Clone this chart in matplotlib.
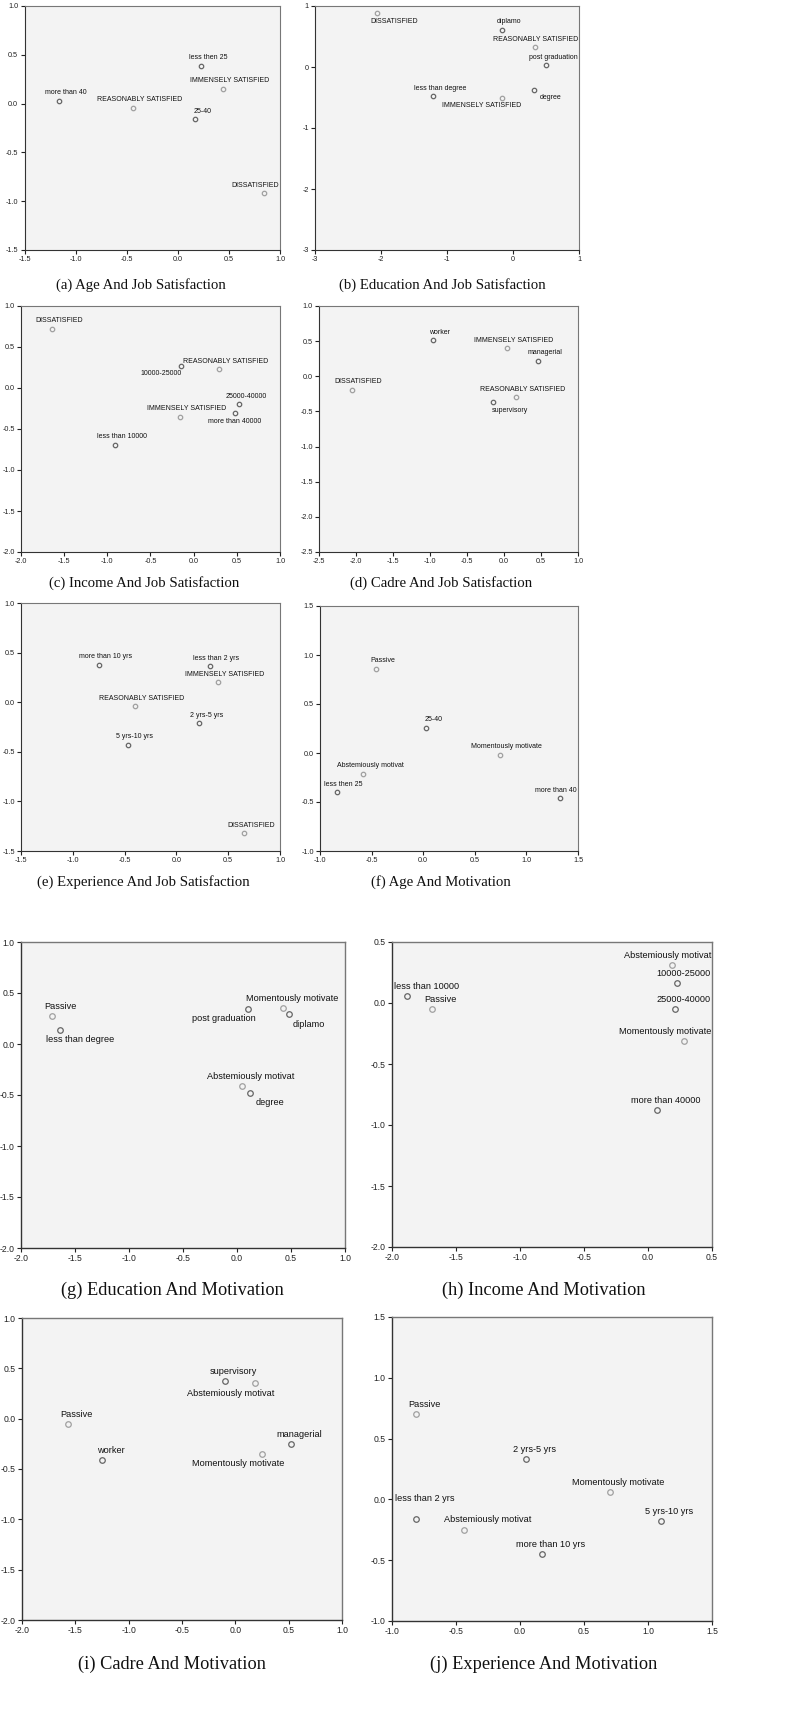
"""Correspondence plots: demographics vs job satisfaction and motivation."""

import matplotlib

matplotlib.use("Agg")
import matplotlib.pyplot as plt
import numpy as np

W, H, DPI = 802, 1728, 100
PANEL_BG = "#f3f3f3"
DARK_PT = "#666666"
LIGHT_PT = "#a0a0a0"

# category names that belong to the response variable (lighter markers)
RESPONSE = {
    "IMMENSELY SATISFIED", "REASONABLY SATISFIED", "DISSATISFIED",
    "Passive", "Abstemiously motivat", "Momentously motivate",
}

# (a) Age And Job Satisfaction
A_LABELS = ["less then 25", "IMMENSELY SATISFIED", "more than 40",
            "REASONABLY SATISFIED", "25-40", "DISSATISFIED"]
A_X = [0.23, 0.44, -1.16, -0.44, 0.17, 0.84]
A_Y = [0.39, 0.15, 0.03, -0.04, -0.16, -0.92]
A_POS = ["a", "a", "a", "a", "a", "a"]

# (b) Education And Job Satisfaction
B_LABELS = ["DISSATISFIED", "diplamo", "REASONABLY SATISFIED", "post graduation",
            "degree", "less than degree", "IMMENSELY SATISFIED"]
B_X = [-2.06, -0.17, 0.33, 0.50, 0.32, -1.21, -0.17]
B_Y = [0.88, 0.61, 0.32, 0.03, -0.37, -0.48, -0.50]
B_POS = ["br", "a", "a", "a", "br", "a", "bl"]

# (c) Income And Job Satisfaction
C_LABELS = ["DISSATISFIED", "10000-25000", "REASONABLY SATISFIED", "25000-40000",
            "more than 40000", "IMMENSELY SATISFIED", "less than 10000"]
C_X = [-1.64, -0.15, 0.29, 0.53, 0.48, -0.16, -0.91]
C_Y = [0.72, 0.27, 0.23, -0.20, -0.31, -0.35, -0.69]
C_POS = ["a", "bl", "a", "a", "b", "a", "a"]

# (d) Cadre And Job Satisfaction
D_LABELS = ["DISSATISFIED", "worker", "IMMENSELY SATISFIED", "managerial",
            "REASONABLY SATISFIED", "supervisory"]
D_X = [-2.06, -0.96, 0.04, 0.46, 0.16, -0.15]
D_Y = [-0.19, 0.51, 0.40, 0.22, -0.30, -0.37]
D_POS = ["a", "a", "a", "a", "a", "br"]

# (e) Experience And Job Satisfaction
E_LABELS = ["more than 10 yrs", "less than 2 yrs", "IMMENSELY SATISFIED",
            "REASONABLY SATISFIED", "2 yrs-5 yrs", "5 yrs-10 yrs", "DISSATISFIED"]
E_X = [-0.75, 0.32, 0.40, -0.40, 0.22, -0.47, 0.65]
E_Y = [0.38, 0.36, 0.20, -0.04, -0.21, -0.43, -1.32]
E_POS = ["a", "a", "a", "a", "a", "a", "a"]

# (f) Age And Motivation
F_LABELS = ["Passive", "Abstemiously motivat", "less then 25", "25-40",
            "Momentously motivate", "more than 40"]
F_X = [-0.46, -0.58, -0.84, 0.03, 0.74, 1.33]
F_Y = [0.86, -0.21, -0.40, 0.26, -0.02, -0.46]
F_POS = ["a", "a", "a", "a", "a", "a"]

# (g) Education And Motivation
G_LABELS = ["Passive", "less than degree", "post graduation", "Momentously motivate",
            "diplamo", "Abstemiously motivat", "degree"]
G_X = [-1.71, -1.64, 0.10, 0.43, 0.48, 0.05, 0.12]
G_Y = [0.27, 0.14, 0.34, 0.35, 0.29, -0.41, -0.48]
G_POS = ["a", "br", "bl", "a", "br", "a", "br"]

# (h) Income And Motivation
H_LABELS = ["Abstemiously motivat", "10000-25000", "25000-40000", "Momentously motivate",
            "more than 40000", "less than 10000", "Passive"]
H_X = [0.19, 0.23, 0.21, 0.28, 0.07, -1.88, -1.69]
H_Y = [0.31, 0.16, -0.05, -0.31, -0.88, 0.06, -0.05]
H_POS = ["a", "a", "a", "a", "a", "a", "a"]

# (i) Cadre And Motivation
I_LABELS = ["supervisory", "Abstemiously motivat", "Passive", "worker",
            "Momentously motivate", "managerial"]
I_X = [-0.10, 0.18, -1.57, -1.25, 0.25, 0.52]
I_Y = [0.37, 0.35, -0.05, -0.41, -0.35, -0.25]
I_POS = ["a", "bl", "a", "a", "bl", "a"]

# (j) Experience And Motivation
J_LABELS = ["Passive", "2 yrs-5 yrs", "Momentously motivate", "less than 2 yrs",
            "Abstemiously motivat", "5 yrs-10 yrs", "more than 10 yrs"]
J_X = [-0.81, 0.05, 0.70, -0.81, -0.44, 1.10, 0.17]
J_Y = [0.70, 0.33, 0.06, -0.16, -0.25, -0.18, -0.45]
J_POS = ["a", "a", "a", "aa", "ar", "a", "a"]

# label offsets (pixels) relative to the point, text centred
OFFSETS = {
    "a": (7, 8),
    "aa": (7, 17),
    "ar": (20, 9),
    "b": (0, -8),
    "br": (17, -8),
    "bl": (-20, -8),
}

plt.rcParams["axes.unicode_minus"] = False
plt.rcParams["font.family"] = "Liberation Sans"

fig = plt.figure(figsize=(W / DPI, H / DPI), dpi=DPI)


def px_axes(left, top, right, bottom):
    return fig.add_axes([left / W, 1 - bottom / H, (right - left) / W, (bottom - top) / H])


panels = [
    # title, box(l,t,r,b), xlim, ylim, step, title_xy, big
    ("(a) Age And Job Satisfaction", (24.5, 6, 280, 250), (-1.5, 1.0), (-1.5, 1.0), 0.5,
     (141, 285), False, A_LABELS, A_X, A_Y, A_POS),
    ("(b) Education And Job Satisfaction", (315, 6, 579, 250), (-3, 1), (-3, 1), 1,
     (442, 285), False, B_LABELS, B_X, B_Y, B_POS),
    ("(c) Income And Job Satisfaction", (21, 306, 280, 552), (-2.0, 1.0), (-2.0, 1.0), 0.5,
     (144, 583), False, C_LABELS, C_X, C_Y, C_POS),
    ("(d) Cadre And Job Satisfaction", (319, 306, 578, 552), (-2.5, 1.0), (-2.5, 1.0), 0.5,
     (441, 583), False, D_LABELS, D_X, D_Y, D_POS),
    ("(e) Experience And Job Satisfaction", (21, 603, 280, 851), (-1.5, 1.0), (-1.5, 1.0), 0.5,
     (143, 882), False, E_LABELS, E_X, E_Y, E_POS),
    ("(f) Age And Motivation", (320, 606, 578, 851), (-1.0, 1.5), (-1.0, 1.5), 0.5,
     (441, 882), False, F_LABELS, F_X, F_Y, F_POS),
    ("(g) Education And Motivation", (21, 942, 345, 1248), (-2.0, 1.0), (-2.0, 1.0), 0.5,
     (172, 1290), True, G_LABELS, G_X, G_Y, G_POS),
    ("(h) Income And Motivation", (392, 942, 712, 1247), (-2.0, 0.5), (-2.0, 0.5), 0.5,
     (544, 1290), True, H_LABELS, H_X, H_Y, H_POS),
    ("(i) Cadre And Motivation", (22, 1318, 342, 1620), (-2.0, 1.0), (-2.0, 1.0), 0.5,
     (172, 1664), True, I_LABELS, I_X, I_Y, I_POS),
    ("(j) Experience And Motivation", (392, 1317, 712, 1621), (-1.0, 1.5), (-1.0, 1.5), 0.5,
     (544, 1664), True, J_LABELS, J_X, J_Y, J_POS),
]

all_notes = []
for title, box, xlim, ylim, step, title_xy, big, labels, xs, ys, pos in panels:
    ax = px_axes(*box)
    ax.set_facecolor(PANEL_BG)
    ax.set_xlim(*xlim)
    ax.set_ylim(*ylim)
    fmt = "%d" if step == 1 else "%.1f"
    xt = np.arange(xlim[0], xlim[1] + step / 2, step)
    yt = np.arange(ylim[0], ylim[1] + step / 2, step)
    ax.set_xticks(xt)
    ax.set_yticks(yt)
    ax.set_xticklabels([fmt % v for v in xt])
    ax.set_yticklabels([fmt % v for v in yt])
    tick_fs = 6.2 if big else 5.2
    ax.tick_params(direction="out", length=3, width=0.8, pad=1.5,
                   labelsize=tick_fs, colors="#222222")
    for side, sp in ax.spines.items():
        sp.set_linewidth(1.0 if big else 0.8)
        sp.set_color("#333333" if side in ("left", "bottom") else "#777777")

    label_fs = 6.6 if big else 5.0
    msize = 4.0 if big else 3.2
    scale = 1.2 if big else 1.0
    for name, x, y, p in zip(labels, xs, ys, pos):
        edge = LIGHT_PT if name in RESPONSE else DARK_PT
        ax.plot(x, y, "o", mfc="none", mec=edge, mew=0.9, ms=msize, clip_on=False)
        dx, dy = OFFSETS[p]
        note = ax.annotate(name, (x, y), xytext=(dx * scale, dy * scale),
                           textcoords="offset pixels", ha="center", va="center",
                           fontsize=label_fs, color="#111111")
        all_notes.append((ax, note))

    fig.text(title_xy[0] / W, 1 - title_xy[1] / H, title, ha="center", va="center",
             family="Liberation Serif", fontsize=13.2 if big else 10.6, color="#111111")

# keep point labels inside their panel horizontally, like SPSS does
fig.canvas.draw()
renderer = fig.canvas.get_renderer()
for ax, note in all_notes:
    bb = note.get_window_extent(renderer)
    abb = ax.get_window_extent(renderer)
    ox, oy = note.xyann
    if bb.x1 > abb.x1:
        note.xyann = (ox - (bb.x1 - abb.x1) - 1, oy)
    elif bb.x0 < abb.x0:
        note.xyann = (ox + (abb.x0 - bb.x0) + 2, oy)

fig.savefig("out.png", dpi=DPI, facecolor="white")
